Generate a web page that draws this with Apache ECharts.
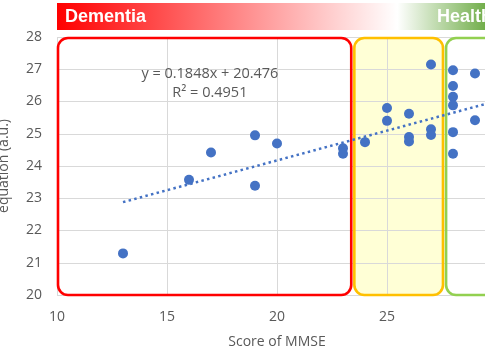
<!DOCTYPE html>
<html>
<head>
<meta charset="utf-8">
<script src="https://cdn.jsdelivr.net/npm/echarts@6/dist/echarts.min.js"></script>
<style>html,body{margin:0;padding:0;background:#fff;}#c{width:485px;height:360px;}</style>
</head>
<body>
<div id="c"></div>
<script>
// ---- data ----
var mmseScores = [13, 16, 17, 19, 19, 20, 23, 23, 24, 25, 25, 26, 26, 26, 27, 27, 27, 28, 28, 28, 28, 28, 28, 29, 29];
var equationValues = [21.29, 23.57, 24.42, 24.95, 23.39, 24.70, 24.55, 24.38, 24.74, 25.80, 25.40, 25.62, 24.90, 24.76, 27.15, 25.14, 24.96, 26.97, 26.48, 26.15, 25.88, 25.05, 24.38, 26.87, 25.42];
var trendX = [13, 30];
var trendY = [22.88, 26.02];
var xTicks = [10, 15, 20, 25, 30];
var yTicks = [20, 21, 22, 23, 24, 25, 26, 27, 28];
var zoneNames = ['Dementia', 'MCI', 'Healthy'];
var zoneFrom = [10, 23.47, 27.64];
var zoneTo = [23.42, 27.59, 31];
var equationText = ['y = 0.1848x + 20.476', 'R\u00b2 = 0.4951'];

var points = mmseScores.map(function (x, i) { return [x, equationValues[i]]; });
var trend = trendX.map(function (x, i) { return [x, trendY[i]]; });

var chart = echarts.init(document.getElementById('c'), null, {renderer: 'canvas'});
var labelColor = '#595959';
var font = '"Open Sans", "Liberation Sans", sans-serif';

chart.setOption({
  backgroundColor: '#ffffff',
  animation: false,
  grid: {left: 57, top: 37, bottom: 65, right: -12, containLabel: false, outerBoundsMode: 'none'},
  xAxis: {
    type: 'value', min: xTicks[0], max: xTicks[xTicks.length - 1], interval: 5,
    name: 'Score of MMSE', nameLocation: 'middle', nameGap: 40,
    nameTextStyle: {color: labelColor, fontSize: 14, fontFamily: font},
    axisLine: {show: false}, axisTick: {show: false},
    axisLabel: {color: labelColor, fontSize: 14, fontFamily: font, margin: 15},
    splitLine: {show: true, lineStyle: {color: '#d9d9d9', width: 1}}
  },
  yAxis: {
    type: 'value', min: yTicks[0], max: yTicks[yTicks.length - 1], interval: 1,
    name: 'equation (a.u.)', nameLocation: 'middle', nameGap: 46,
    nameTextStyle: {color: labelColor, fontSize: 14, fontFamily: font},
    axisLine: {show: false}, axisTick: {show: false},
    axisLabel: {color: labelColor, fontSize: 14, fontFamily: font, margin: 15},
    splitLine: {show: true, lineStyle: {color: '#d9d9d9', width: 1}}
  },
  series: [
    {
      type: 'line', data: trend, symbol: 'none', z: 3,
      lineStyle: {color: '#4472C4', width: 2.5, type: [2.5, 3.3], cap: 'butt'},
      silent: true
    },
    {
      type: 'scatter', data: points, symbolSize: 10, z: 4,
      itemStyle: {color: '#4472C4', opacity: 1}
    }
  ]
});

function px(x, y) { return chart.convertToPixel({gridIndex: 0}, [x, y]); }

var yMin = yTicks[0], yMax = yTicks[yTicks.length - 1];
var borderColors = ['#FF0000', '#FFC000', '#92D050'];
var fills = [null, 'rgba(255,255,200,0.75)', null];
var graphics = [];
for (var i = 0; i < zoneNames.length; i++) {
  var p0 = px(zoneFrom[i], yMax), p1 = px(zoneTo[i], yMin);
  var shape = {x: p0[0] + 1, y: p0[1] + 1, width: p1[0] - p0[0] - 2, height: p1[1] - p0[1] - 1, r: 10};
  if (fills[i]) {
    graphics.push({type: 'rect', shape: shape, z: -1, silent: true, style: {fill: fills[i], stroke: null}});
  }
  graphics.push({type: 'rect', shape: shape, z: 1, silent: true, style: {fill: null, stroke: borderColors[i], lineWidth: 2.6}});
}
// banner
var b0 = px(xTicks[0], yMax);
graphics.push({
  type: 'rect', shape: {x: b0[0], y: 3, width: 520 - b0[0], height: 27}, silent: true, z: 1,
  style: {fill: new echarts.graphic.LinearGradient(b0[0], 0, 485, 0, [
    {offset: 0, color: '#FF0000'},
    {offset: 0.795, color: '#FFFFFF'},
    {offset: 1, color: '#72AE4B'}
  ], true)}
});
graphics.push({type: 'text', x: b0[0] + 8, y: 17, z: 2, silent: true,
  style: {text: zoneNames[0], fill: '#ffffff', font: 'bold 18px "Liberation Sans", Arial, sans-serif', verticalAlign: 'middle'}});
graphics.push({type: 'text', x: 437, y: 17, z: 2, silent: true,
  style: {text: zoneNames[2], fill: '#ffffff', font: 'bold 18px "Liberation Sans", Arial, sans-serif', verticalAlign: 'middle'}});
// equation text
var e0 = px(16.95, 26.86), e1 = px(16.95, 26.27);
graphics.push({type: 'text', x: e0[0], y: e0[1], z: 5, silent: true,
  style: {text: equationText[0], fill: labelColor, font: '14.5px ' + font, align: 'center', verticalAlign: 'middle'}});
graphics.push({type: 'text', x: e1[0], y: e1[1], z: 5, silent: true,
  style: {text: equationText[1], fill: labelColor, font: '14.5px ' + font, align: 'center', verticalAlign: 'middle'}});

chart.setOption({graphic: graphics});
</script>
</body>
</html>
